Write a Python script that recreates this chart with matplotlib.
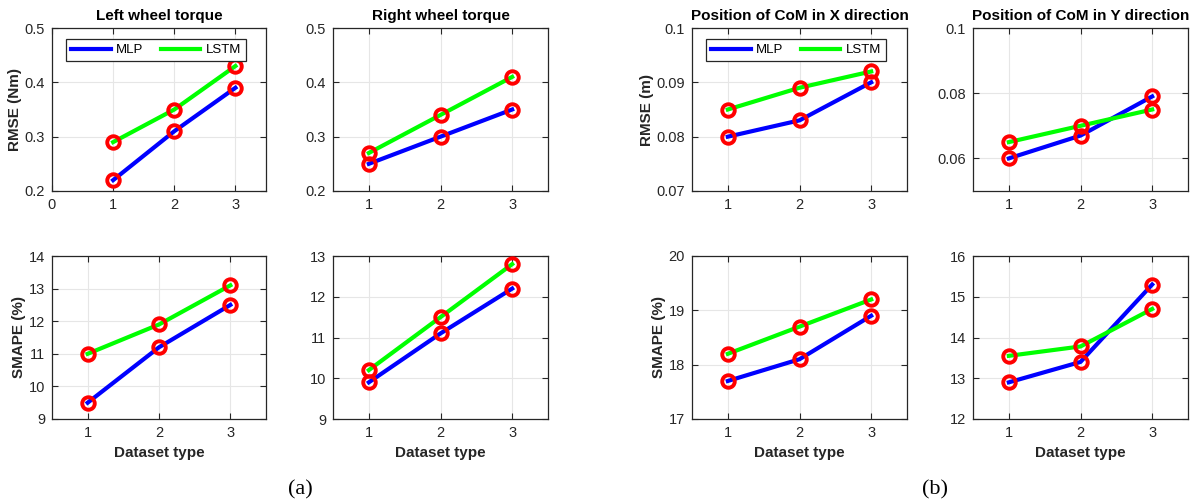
import matplotlib
matplotlib.use("Agg")
import matplotlib.pyplot as plt

datasets = [1, 2, 3]

# RMSE
left_rmse_mlp = [0.22, 0.31, 0.39]
left_rmse_lstm = [0.29, 0.35, 0.43]
right_rmse_mlp = [0.25, 0.30, 0.35]
right_rmse_lstm = [0.27, 0.34, 0.41]
comx_rmse_mlp = [0.080, 0.083, 0.090]
comx_rmse_lstm = [0.085, 0.089, 0.092]
comy_rmse_mlp = [0.060, 0.067, 0.079]
comy_rmse_lstm = [0.065, 0.070, 0.075]

# SMAPE
left_smape_mlp = [9.5, 11.2, 12.5]
left_smape_lstm = [11.0, 11.9, 13.1]
right_smape_mlp = [9.9, 11.1, 12.2]
right_smape_lstm = [10.2, 11.5, 12.8]
comx_smape_mlp = [17.7, 18.1, 18.9]
comx_smape_lstm = [18.2, 18.7, 19.2]
comy_smape_mlp = [12.9, 13.4, 15.3]
comy_smape_lstm = [13.55, 13.78, 14.7]

titles = ["Left wheel torque", "Right wheel torque",
          "Position of CoM in X direction", "Position of CoM in Y direction"]

plt.rcParams['font.family'] = ['Liberation Sans', 'DejaVu Sans']

fig = plt.figure(figsize=(11.95, 5.04), dpi=100)
W, H = 1195, 504
cols = [(52, 266), (333, 548), (692, 907), (973, 1188)]
rows = [(28, 191), (256, 419)]

tc = (0.15, 0.15, 0.15)

def make_ax(c, r):
    x0, x1 = cols[c]
    y0, y1 = rows[r]
    ax = fig.add_axes([x0 / W, 1 - y1 / H, (x1 - x0) / W, (y1 - y0) / H])
    return ax

panels = [
    (0, 0, left_rmse_mlp, left_rmse_lstm, (0.2, 0.5), [0.2, 0.3, 0.4, 0.5], ["0.2", "0.3", "0.4", "0.5"], (0, 3.5), [0, 1, 2, 3]),
    (1, 0, right_rmse_mlp, right_rmse_lstm, (0.2, 0.5), [0.2, 0.3, 0.4, 0.5], ["0.2", "0.3", "0.4", "0.5"], (0.5, 3.5), [1, 2, 3]),
    (2, 0, comx_rmse_mlp, comx_rmse_lstm, (0.07, 0.1), [0.07, 0.08, 0.09, 0.1], ["0.07", "0.08", "0.09", "0.1"], (0.5, 3.5), [1, 2, 3]),
    (3, 0, comy_rmse_mlp, comy_rmse_lstm, (0.05, 0.1), [0.06, 0.08, 0.1], ["0.06", "0.08", "0.1"], (0.5, 3.5), [1, 2, 3]),
    (0, 1, left_smape_mlp, left_smape_lstm, (9, 14), [9, 10, 11, 12, 13, 14], None, (0.5, 3.5), [1, 2, 3]),
    (1, 1, right_smape_mlp, right_smape_lstm, (9, 13), [9, 10, 11, 12, 13], None, (0.5, 3.5), [1, 2, 3]),
    (2, 1, comx_smape_mlp, comx_smape_lstm, (17, 20), [17, 18, 19, 20], None, (0.5, 3.5), [1, 2, 3]),
    (3, 1, comy_smape_mlp, comy_smape_lstm, (12, 16), [12, 13, 14, 15, 16], None, (0.5, 3.5), [1, 2, 3]),
]

for (c, r, mlp, lstm, ylim, yt, ytl, xlim, xt) in panels:
    ax = make_ax(c, r)
    ax.grid(True, color=(0.9, 0.9, 0.9), linewidth=0.8)
    ax.set_axisbelow(True)
    l1, = ax.plot(datasets, mlp, color=(0, 0, 1), lw=3, label="MLP", zorder=3)
    l2, = ax.plot(datasets, lstm, color=(0, 1, 0), lw=3, label="LSTM", zorder=3)
    ax.plot(datasets, mlp, ls='none', marker='o', ms=9, mfc='none', mec='red', mew=2.8, zorder=4)
    ax.plot(datasets, lstm, ls='none', marker='o', ms=9, mfc='none', mec='red', mew=2.8, zorder=4)
    ax.set_xlim(*xlim)
    ax.set_ylim(*ylim)
    ax.set_xticks(xt)
    ax.set_xticklabels([str(v) for v in xt])
    ax.set_yticks(yt)
    if ytl is None:
        ytl = [str(v) for v in yt]
    ax.set_yticklabels(ytl)
    ax.tick_params(direction='in', top=True, right=True, labelsize=10.5,
                   colors=tc, length=4, width=0.8, pad=5)
    for s in ax.spines.values():
        s.set_color(tc)
        s.set_linewidth(0.9)
    if r == 0:
        ax.set_title(titles[c], fontsize=11, fontweight='bold', color='black', pad=6)
    else:
        ax.set_xlabel("Dataset type", fontsize=11, fontweight='bold', color=tc, labelpad=4)
    ylabels = {(0, 0): "RMSE (Nm)", (0, 1): "SMAPE (%)", (2, 0): "RMSE (m)", (2, 1): "SMAPE (%)"}
    if (c, r) in ylabels:
        ax.set_ylabel(ylabels[(c, r)], fontsize=11, fontweight='bold', color=tc, labelpad=2)
    if r == 0 and c in (0, 2):
        leg = ax.legend(handles=[l1, l2], loc='upper left', ncol=2, fontsize=9.5,
                        frameon=True, fancybox=False, edgecolor=tc, framealpha=1,
                        handlelength=3.0, columnspacing=1.3, borderpad=0.4,
                        handletextpad=0.4, bbox_to_anchor=(0.035, 0.975))
        leg.get_frame().set_linewidth(0.9)

fig.text(300 / W, 1 - 490 / H, "(a)", fontsize=16, family=['Liberation Serif', 'DejaVu Serif'],
         ha='center', va='center')
fig.text(935 / W, 1 - 490 / H, "(b)", fontsize=16, family=['Liberation Serif', 'DejaVu Serif'],
         ha='center', va='center')

fig.savefig("out.png", dpi=100, facecolor='white')
